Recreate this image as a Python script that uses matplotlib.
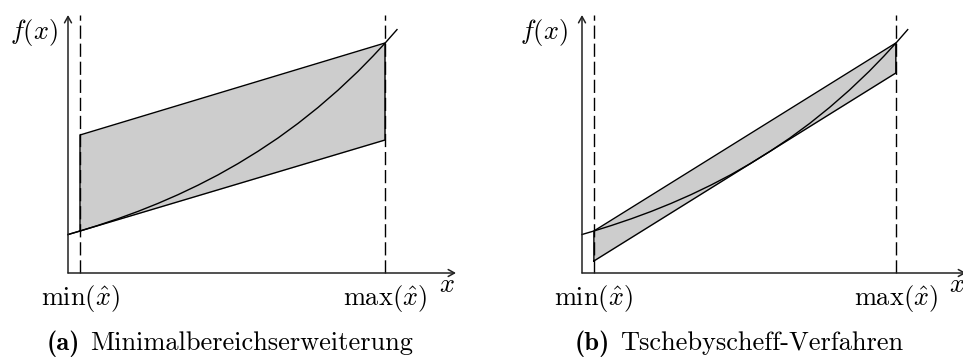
import matplotlib.pyplot as plt
from matplotlib.offsetbox import AnnotationBbox, HPacker, TextArea

plt.rcParams["font.family"] = "serif"
plt.rcParams["font.serif"] = ["cmr10"]
plt.rcParams["mathtext.fontset"] = "cm"
plt.rcParams["axes.unicode_minus"] = False

# values (x from the y-axis, y up from the x-axis)
x_lo, x_hi = 12, 317
curve_x = [0, 12, 30, 50, 70, 90, 110, 130, 150, 170, 190, 210, 230, 250, 270, 290, 305, 317, 329]
curve_y = [38.5, 42.0, 47.6, 54.3, 61.6, 69.6, 78.3, 87.8, 98.1, 109.4, 121.7, 135.0,
           149.6, 165.5, 182.8, 201.6, 216.9, 229.8, 243.4]

# (a) Minimalbereichserweiterung: band at [min, max]
a_lower = [42, 133]
a_upper = [138, 230]
a_tangent_x = [0, 12]
a_tangent_y = [38.4, 42]

# (b) Tschebyscheff-Verfahren
b_lower = [12, 200]
b_upper = [42, 230]

panels = [
    dict(lower=a_lower, upper=a_upper, tag="(a)", caption="Minimalbereichserweiterung"),
    dict(lower=b_lower, upper=b_upper, tag="(b)", caption="Tschebyscheff-Verfahren"),
]

W, H = 963, 358
fig = plt.figure(figsize=(W / 100, H / 100), dpi=100)

# axes placed so that one data unit is about one pixel
ax_a = fig.add_axes([60 / W, 78 / H, 410 / W, 270 / H])
ax_b = fig.add_axes([(582 - 8 * 0.99) / W, 78 / H, 410 * 0.99 / W, 270 / H])
fy_off = [-10, -14]
cap_x = [230, 739]

for i, (ax, p) in enumerate(zip([ax_a, ax_b], panels)):
    ax.set_xlim(-8, 402)
    ax.set_ylim(-7, 263)
    ax.axis("off")

    xs = [x_lo, x_hi]
    ax.fill_between(xs, p["lower"], p["upper"], color="#cdcdcd", lw=0, zorder=1)
    ax.plot([x_lo, x_lo, x_hi, x_hi, x_lo],
            [p["lower"][0], p["upper"][0], p["upper"][1], p["lower"][1], p["lower"][0]],
            color="black", lw=1.0, zorder=3)
    if i == 0:
        ax.plot(a_tangent_x, a_tangent_y, color="black", lw=1.0, zorder=3)
    ax.plot(curve_x, curve_y, color="black", lw=1.0, zorder=3, clip_on=False)

    # dashed bounds
    for xv in xs:
        ax.plot([xv, xv], [0, 258], color="black", lw=1.0,
                linestyle=(0, (9.5, 3.5)), zorder=2)

    # axes arrows
    arrow = dict(arrowstyle="->,head_length=0.45,head_width=0.25", lw=1.1,
                 color="#222222", shrinkA=0, shrinkB=0, mutation_scale=10)
    ax.annotate("", xy=(388, 0), xytext=(0, 0), arrowprops=arrow, annotation_clip=False)
    ax.annotate("", xy=(0, 258), xytext=(0, 0), arrowprops=arrow, annotation_clip=False)

    ax.text(x_lo, -32.5, r"$\min(\hat{x})$", ha="center", va="baseline", fontsize=19)
    ax.text(x_hi, -32.5, r"$\max(\hat{x})$", ha="center", va="baseline", fontsize=19)
    ax.text(379, -12.5, r"$x$", ha="center", va="center", fontsize=19)
    ax.text(fy_off[i], 233.5, r"$f(x)$", ha="right", va="baseline", fontsize=19)

    # caption: bold tag + roman text
    cap = HPacker(children=[TextArea(p["tag"], textprops=dict(family="cmb10", fontsize=19)),
                            TextArea(p["caption"], textprops=dict(family="cmr10", fontsize=19))],
                  align="baseline", pad=0, sep=7)
    fig.add_artist(AnnotationBbox(cap, (cap_x[i] / W, 1 - 344 / H), xycoords="figure fraction",
                                  frameon=False, box_alignment=(0.5, 0.5), pad=0))

plt.savefig("out.png", dpi=100)
